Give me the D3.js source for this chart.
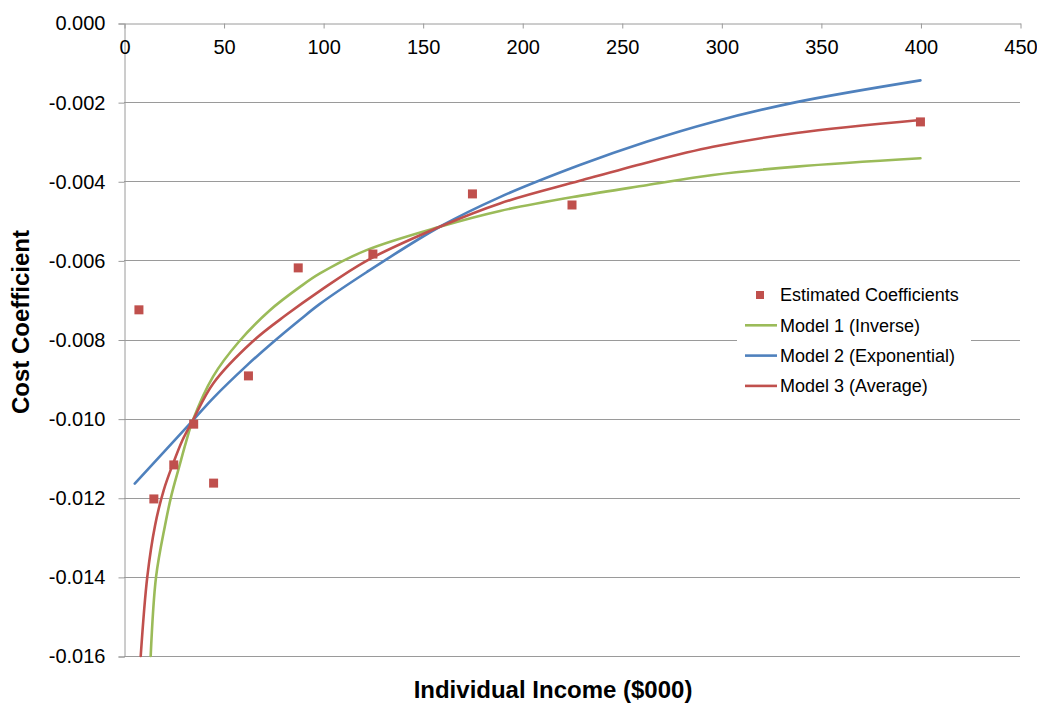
<!DOCTYPE html>
<html lang="en">
  <head>
    <meta charset="utf-8">
    <title>Cost Coefficient vs Individual Income</title>
    <style>
      body { margin: 0; background: #fff; }
      svg text { font-family: "Liberation Sans", Arial, sans-serif; fill: #000; }
    </style>
  </head>
  <body>
    <svg width="1037" height="703"></svg>
    <script src="https://cdn.jsdelivr.net/npm/d3@7"></script>
    <script>
      // estimated coefficients (income in $000)
      const pointIncome = [7.5, 15, 25, 35, 45, 62.5, 87.5, 125, 175, 225, 400];
      const pointCoef = [-0.00725, -0.01203, -0.01117, -0.01014, -0.01163, -0.00892, -0.00619, -0.00584, -0.00432, -0.0046, -0.0025];

      // model curves
      const model1Income = [13.4, 16.1, 20.6, 23.9, 27.8, 31.1, 34.5, 44.8, 57.8, 73.3, 88.4, 98.4, 121.8, 158.6, 188.8, 228.9, 262.4, 295.8, 337.7, 400];
      const model1Coef = [-0.016, -0.014, -0.0127, -0.01192, -0.0112, -0.0106, -0.01005, -0.00893, -0.00805, -0.00726, -0.00667, -0.00633, -0.00574, -0.00515, -0.00475, -0.00437, -0.0041, -0.00384, -0.00363, -0.00342];

      const model2Income = [5.4, 34.5, 44.8, 61.6, 74.1, 88.4, 98.4, 121.8, 158.6, 188.8, 228.9, 262.4, 295.8, 337.7, 400];
      const model2Coef = [-0.01164, -0.01005, -0.00948, -0.00866, -0.0081, -0.0075, -0.0071, -0.0063, -0.00515, -0.0044, -0.00359, -0.003, -0.0025, -0.002, -0.00145];

      const model3Income = [8.4, 11.7, 15.6, 20, 24.4, 29.4, 34.5, 44.8, 64.6, 81.7, 98.4, 121.8, 158.6, 188.8, 228.9, 262.4, 295.8, 337.7, 400];
      const model3Coef = [-0.016, -0.014, -0.0127, -0.0118, -0.01117, -0.01054, -0.01005, -0.00911, -0.00805, -0.00737, -0.00677, -0.00601, -0.00515, -0.00456, -0.00399, -0.00353, -0.00313, -0.00278, -0.00245];

      const xTicks = [0, 50, 100, 150, 200, 250, 300, 350, 400, 450];
      const yTicks = [0, -0.002, -0.004, -0.006, -0.008, -0.010, -0.012, -0.014, -0.016];

      const seriesNames = ['Estimated Coefficients', 'Model 1 (Inverse)', 'Model 2 (Exponential)', 'Model 3 (Average)'];
      const colours = { points: '#C0504D', model1: '#9BBB59', model2: '#4F81BD', model3: '#C0504D' };

      const svg = d3.select('svg');

      const x = d3.scaleLinear().domain([0, 450]).range([124, 1020]);
      const y = d3.scaleLinear().domain([0, -0.016]).range([23, 656]);

      // gridlines
      svg.append('g').selectAll('line')
        .data(yTicks.slice(1)).enter()
        .append('line')
        .attr('x1', x(0)).attr('x2', x(450))
        .attr('y1', d => Math.round(y(d)) + 0.5)
        .attr('y2', d => Math.round(y(d)) + 0.5)
        .attr('stroke', '#9a9a9a');

      // y axis
      const yAxis = svg.append('g')
        .attr('transform', 'translate(' + (x(0) + 0.5) + ',0.5)')
        .call(d3.axisLeft(y).tickValues(yTicks).tickSize(6).tickPadding(13)
          .tickFormat(d => d.toFixed(3)));
      yAxis.select('.domain').attr('stroke', '#9a9a9a');
      yAxis.selectAll('.tick line').attr('stroke', '#9a9a9a');
      yAxis.selectAll('text').attr('font-size', 20).attr('font-family', '"Liberation Sans", Arial, sans-serif');

      // x axis along the top (zero line), labels underneath
      const xAxis = svg.append('g')
        .attr('transform', 'translate(0.5,' + (y(0) + 0.5) + ')')
        .call(d3.axisBottom(x).tickValues(xTicks).tickSize(5).tickPadding(11).tickSizeOuter(0));
      xAxis.select('.domain').attr('stroke', '#9a9a9a');
      xAxis.selectAll('.tick line').attr('stroke', '#9a9a9a');
      xAxis.selectAll('text').attr('font-size', 20).attr('font-family', '"Liberation Sans", Arial, sans-serif');

      // model lines
      const line = d3.line()
        .x(d => x(d[0]))
        .y(d => y(d[1]))
        .curve(d3.curveCatmullRom.alpha(0.5));

      const models = [
        { key: 'model1', data: d3.zip(model1Income, model1Coef) },
        { key: 'model2', data: d3.zip(model2Income, model2Coef) },
        { key: 'model3', data: d3.zip(model3Income, model3Coef) }
      ];

      svg.append('g').selectAll('path')
        .data(models).enter()
        .append('path')
        .attr('d', d => line(d.data))
        .attr('fill', 'none')
        .attr('stroke', d => colours[d.key])
        .attr('stroke-width', 2.6)
        .attr('stroke-linecap', 'round');

      // points
      svg.append('g').selectAll('rect')
        .data(d3.zip(pointIncome, pointCoef)).enter()
        .append('rect')
        .attr('x', d => x(d[0]) - 4.5)
        .attr('y', d => y(d[1]) - 4.5)
        .attr('width', 9)
        .attr('height', 9)
        .attr('fill', colours.points);

      // axis titles
      svg.append('text')
        .attr('x', 553).attr('y', 698)
        .attr('text-anchor', 'middle')
        .attr('font-size', 24).attr('font-weight', 'bold')
        .text('Individual Income ($000)');

      svg.append('text')
        .attr('transform', 'translate(29,322) rotate(-90)')
        .attr('text-anchor', 'middle')
        .attr('font-size', 24).attr('font-weight', 'bold')
        .text('Cost Coefficient');

      // legend
      const legend = svg.append('g').attr('transform', 'translate(737,278)');
      legend.append('rect')
        .attr('width', 234).attr('height', 124)
        .attr('fill', '#fff');

      const rows = legend.selectAll('g')
        .data(seriesNames).enter()
        .append('g')
        .attr('transform', (d, i) => 'translate(0,' + (17 + i * 30.3) + ')');

      rows.filter((d, i) => i === 0).append('rect')
        .attr('x', 19).attr('y', -4).attr('width', 8).attr('height', 8)
        .attr('fill', colours.points);

      rows.filter((d, i) => i > 0).append('line')
        .attr('x1', 8).attr('x2', 40)
        .attr('stroke', (d, i) => colours['model' + (i + 1)])
        .attr('stroke-width', 2.6);

      rows.append('text')
        .attr('x', 43).attr('dy', '0.35em')
        .attr('font-size', 18)
        .text(d => d);
    </script>
  </body>
</html>
